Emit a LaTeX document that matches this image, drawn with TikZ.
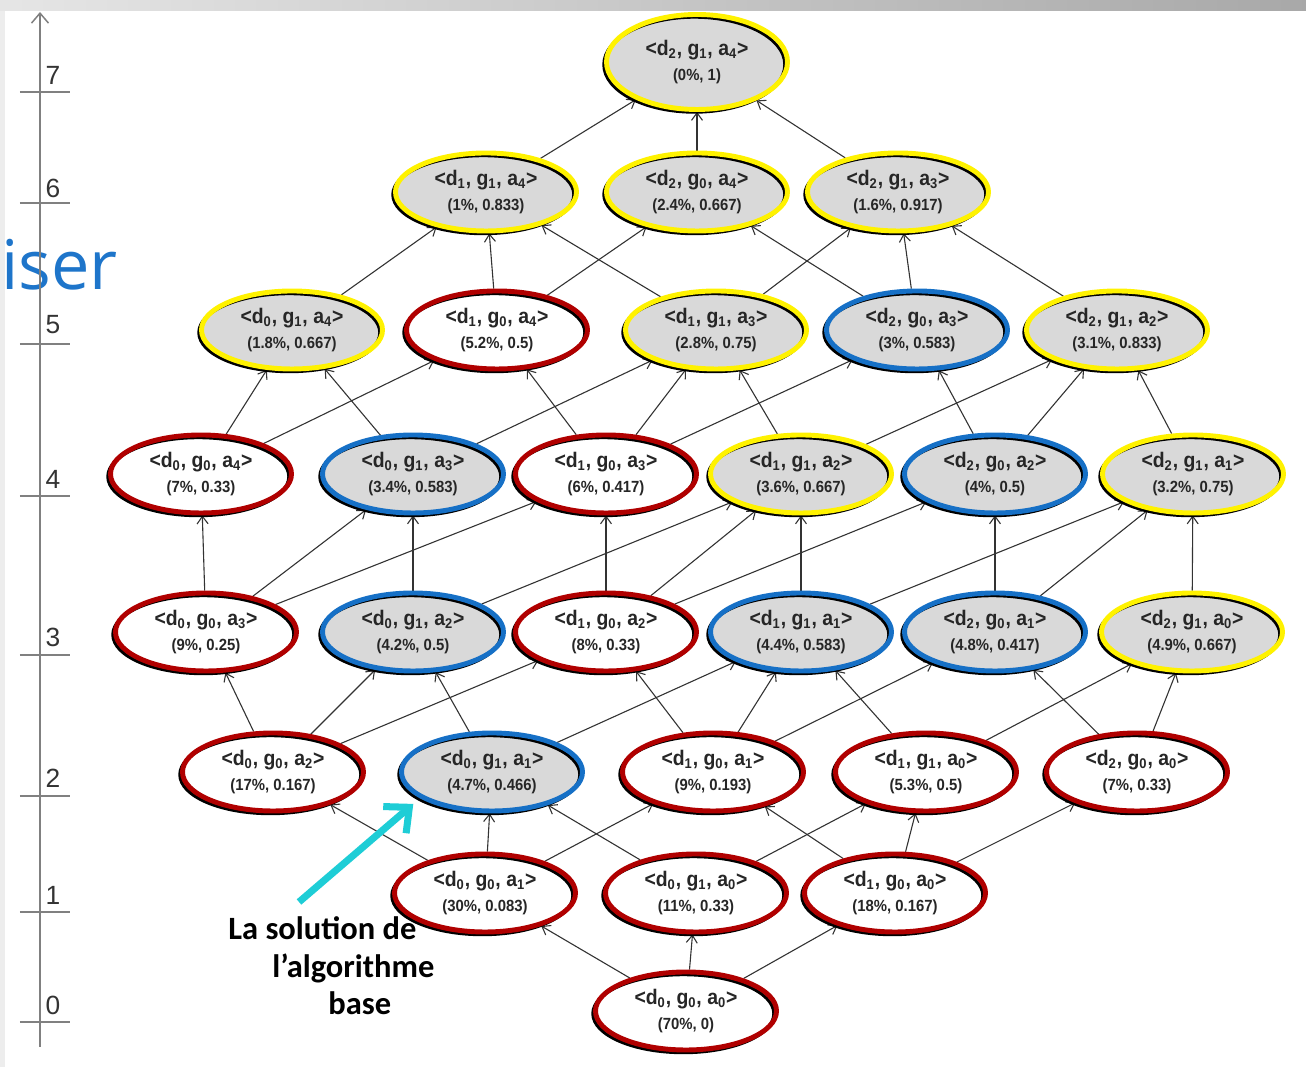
\documentclass[tikz,border=0pt]{standalone}
\usepackage{fontspec}
\setmainfont{Liberation Sans}
\newfontfamily\etatfont[FakeStretch=0.92]{Liberation Sans}
\newfontfamily\notefont{Carlito}
\newfontfamily\titrefont{Open Sans}
\usepackage{tikz}
\usetikzlibrary{shapes.geometric, arrows.meta, backgrounds, calc, positioning}
\definecolor{ringred}{RGB}{176,0,0}
\definecolor{ringyel}{RGB}{255,242,0}
\definecolor{ringblue}{RGB}{22,112,198}
\definecolor{nodegray}{RGB}{217,217,217}
\definecolor{titleblue}{RGB}{30,117,202}
\definecolor{solcyan}{RGB}{30,205,214}
\newcommand{\valeur}[1]{{\fontsize{9.2}{10}\selectfont #1}}

\begin{document}
\begin{tikzpicture}

% TikZ styles
\tikzset{
  etat/.style={ellipse, minimum width=3.62cm, minimum height=1.56cm, inner sep=0pt, align=center,
    font={\etatfont\bfseries\fontsize{12}{14.2}\selectfont}, text=black!85, line width=2.8pt,
    preaction={fill=#1},
    preaction={draw=black, line width=1.8pt, transform canvas={shift={(-1.5pt,-1.5pt)}}}},
  rouge/.style={etat=white, draw=ringred},
  jaune/.style={etat=nodegray, draw=ringyel},
  bleu/.style={etat=nodegray, draw=ringblue},
  arrow/.style={-{Straight Barb[length=1.5mm, width=2.2mm]}, line width=0.22mm, draw=black!80},
  pointer/.style={-{Straight Barb[length=11pt, width=20pt]}, line width=4pt, draw=solcyan, shorten >=5pt},
  axe/.style={-{Straight Barb[length=2mm, width=3.4mm]}, line width=0.3mm, draw=gray},
  tick/.style={line width=0.4mm, draw=gray},
  niveau/.style={font=\fontsize{15}{18}\selectfont, text=black!80, inner sep=0pt},
  note/.style={font={\notefont\bfseries\fontsize{18.5}{22}\selectfont}, inner sep=0pt, anchor=base west}
}

\useasboundingbox (0,0) rectangle (26.12,21.34);

%==========================
% Rand der Folie
%==========================
\begin{scope}[on background layer]
\fill[left color=gray!20, right color=gray!68] (0,21.12) rectangle (26.12,21.34);
\fill[gray!14] (0,0) rectangle (0.1,21.12);
\end{scope}

\node[font={\titrefont\fontsize{39}{44}\selectfont}, text=titleblue, anchor=base west, inner sep=0pt] (titre) at (0.02,15.54) {iser};

% --- Achse ---
\coordinate (axbas) at (0.8,0.4);
\coordinate (axhaut) at (0.8,21.1);
\draw[axe] (axbas) -- (axhaut);

\draw[tick] (0.4,0.90) -- (1.4,0.90);
\draw[tick] (0.4,3.10) -- (1.4,3.10);
\draw[tick] (0.4,5.42) -- (1.4,5.42);
\draw[tick] (0.4,8.24) -- (1.4,8.24);
\draw[tick] (0.4,11.42) -- (1.4,11.42);
\draw[tick] (0.4,14.46) -- (1.4,14.46);
\draw[tick] (0.4,17.28) -- (1.4,17.28);
\draw[tick] (0.4,19.50) -- (1.4,19.50);

\node[niveau] (niv0) at (1.06,1.24) {0};
\node[niveau] (niv1) at (1.06,3.44) {1};
\node[niveau] (niv2) at (1.06,5.78) {2};
\node[niveau] (niv3) at (1.06,8.60) {3};
\node[niveau] (niv4) at (1.06,11.76) {4};
\node[niveau] (niv5) at (1.06,14.84) {5};
\node[niveau] (niv6) at (1.06,17.58) {6};
\node[niveau] (niv7) at (1.06,19.84) {7};

%==========================
% Treillis
%==========================
% --- Niveau 0 ---
\node[rouge] (d0g0a0) at (13.72,1.12) {<d\textsubscript{0}, g\textsubscript{0}, a\textsubscript{0}> \\ \valeur{(70\%, 0)}};

% --- Niveau 1 ---
\node[rouge] (d0g0a1) at (9.70,3.48) {<d\textsubscript{0}, g\textsubscript{0}, a\textsubscript{1}> \\ \valeur{(30\%, 0.083)}};
\node[rouge] (d0g1a0) at (13.92,3.48) {<d\textsubscript{0}, g\textsubscript{1}, a\textsubscript{0}> \\ \valeur{(11\%, 0.33)}};
\node[rouge] (d1g0a0) at (17.90,3.48) {<d\textsubscript{1}, g\textsubscript{0}, a\textsubscript{0}> \\ \valeur{(18\%, 0.167)}};

% --- Niveau 2 ---
\node[rouge] (d0g0a2) at (5.46,5.90) {<d\textsubscript{0}, g\textsubscript{0}, a\textsubscript{2}> \\ \valeur{(17\%, 0.167)}};
\node[bleu]  (d0g1a1) at (9.84,5.90) {<d\textsubscript{0}, g\textsubscript{1}, a\textsubscript{1}> \\ \valeur{(4.7\%, 0.466)}};
\node[rouge] (d1g0a1) at (14.26,5.90) {<d\textsubscript{1}, g\textsubscript{0}, a\textsubscript{1}> \\ \valeur{(9\%, 0.193)}};
\node[rouge] (d1g1a0) at (18.52,5.90) {<d\textsubscript{1}, g\textsubscript{1}, a\textsubscript{0}> \\ \valeur{(5.3\%, 0.5)}};
\node[rouge] (d2g0a0) at (22.74,5.90) {<d\textsubscript{2}, g\textsubscript{0}, a\textsubscript{0}> \\ \valeur{(7\%, 0.33)}};

% --- Niveau 3 ---
\node[rouge] (d0g0a3) at (4.12,8.70) {<d\textsubscript{0}, g\textsubscript{0}, a\textsubscript{3}> \\ \valeur{(9\%, 0.25)}};
\node[bleu]  (d0g1a2) at (8.26,8.70) {<d\textsubscript{0}, g\textsubscript{1}, a\textsubscript{2}> \\ \valeur{(4.2\%, 0.5)}};
\node[rouge] (d1g0a2) at (12.12,8.70) {<d\textsubscript{1}, g\textsubscript{0}, a\textsubscript{2}> \\ \valeur{(8\%, 0.33)}};
\node[bleu]  (d1g1a1) at (16.02,8.70) {<d\textsubscript{1}, g\textsubscript{1}, a\textsubscript{1}> \\ \valeur{(4.4\%, 0.583)}};
\node[bleu]  (d2g0a1) at (19.90,8.70) {<d\textsubscript{2}, g\textsubscript{0}, a\textsubscript{1}> \\ \valeur{(4.8\%, 0.417)}};
\node[jaune] (d2g1a0) at (23.84,8.70) {<d\textsubscript{2}, g\textsubscript{1}, a\textsubscript{0}> \\ \valeur{(4.9\%, 0.667)}};

% --- Niveau 4 ---
\node[rouge] (d0g0a4) at (4.02,11.86) {<d\textsubscript{0}, g\textsubscript{0}, a\textsubscript{4}> \\ \valeur{(7\%, 0.33)}};
\node[bleu]  (d0g1a3) at (8.26,11.86) {<d\textsubscript{0}, g\textsubscript{1}, a\textsubscript{3}> \\ \valeur{(3.4\%, 0.583)}};
\node[rouge] (d1g0a3) at (12.12,11.86) {<d\textsubscript{1}, g\textsubscript{0}, a\textsubscript{3}> \\ \valeur{(6\%, 0.417)}};
\node[jaune] (d1g1a2) at (16.02,11.86) {<d\textsubscript{1}, g\textsubscript{1}, a\textsubscript{2}> \\ \valeur{(3.6\%, 0.667)}};
\node[bleu]  (d2g0a2) at (19.90,11.86) {<d\textsubscript{2}, g\textsubscript{0}, a\textsubscript{2}> \\ \valeur{(4\%, 0.5)}};
\node[jaune] (d2g1a1) at (23.86,11.86) {<d\textsubscript{2}, g\textsubscript{1}, a\textsubscript{1}> \\ \valeur{(3.2\%, 0.75)}};

% --- Niveau 5 ---
\node[jaune] (d0g1a4) at (5.84,14.74) {<d\textsubscript{0}, g\textsubscript{1}, a\textsubscript{4}> \\ \valeur{(1.8\%, 0.667)}};
\node[rouge] (d1g0a4) at (9.94,14.74) {<d\textsubscript{1}, g\textsubscript{0}, a\textsubscript{4}> \\ \valeur{(5.2\%, 0.5)}};
\node[jaune] (d1g1a3) at (14.32,14.74) {<d\textsubscript{1}, g\textsubscript{1}, a\textsubscript{3}> \\ \valeur{(2.8\%, 0.75)}};
\node[bleu]  (d2g0a3) at (18.34,14.74) {<d\textsubscript{2}, g\textsubscript{0}, a\textsubscript{3}> \\ \valeur{(3\%, 0.583)}};
\node[jaune] (d2g1a2) at (22.34,14.74) {<d\textsubscript{2}, g\textsubscript{1}, a\textsubscript{2}> \\ \valeur{(3.1\%, 0.833)}};

% --- Niveau 6 ---
\node[jaune] (d1g1a4) at (9.72,17.50) {<d\textsubscript{1}, g\textsubscript{1}, a\textsubscript{4}> \\ \valeur{(1\%, 0.833)}};
\node[jaune] (d2g0a4) at (13.94,17.50) {<d\textsubscript{2}, g\textsubscript{0}, a\textsubscript{4}> \\ \valeur{(2.4\%, 0.667)}};
\node[jaune] (d2g1a3) at (17.96,17.50) {<d\textsubscript{2}, g\textsubscript{1}, a\textsubscript{3}> \\ \valeur{(1.6\%, 0.917)}};

% --- Niveau 7 ---
\node[jaune, minimum height=1.9cm] (d2g1a4) at (13.94,20.10) {<d\textsubscript{2}, g\textsubscript{1}, a\textsubscript{4}> \\ \valeur{(0\%, 1)}};

% --- Pfeile ---
\begin{scope}[on background layer]
%0 -> 1
\draw[arrow] (d0g0a0) -- (d0g0a1);
\draw[arrow] (d0g0a0) -- (d0g1a0);
\draw[arrow] (d0g0a0) -- (d1g0a0);
%1 -> 2
\draw[arrow] (d0g0a1) -- (d0g0a2);
\draw[arrow] (d0g0a1) -- (d0g1a1);
\draw[arrow] (d0g0a1) -- (d1g0a1);
\draw[arrow] (d0g1a0) -- (d0g1a1);
\draw[arrow] (d0g1a0) -- (d1g1a0);
\draw[arrow] (d1g0a0) -- (d1g0a1);
\draw[arrow] (d1g0a0) -- (d1g1a0);
\draw[arrow] (d1g0a0) -- (d2g0a0);
%2 -> 3
\draw[arrow] (d0g0a2) -- (d0g0a3);
\draw[arrow] (d0g0a2) -- (d0g1a2);
\draw[arrow] (d0g0a2) -- (d1g0a2);
\draw[arrow] (d0g1a1) -- (d0g1a2);
\draw[arrow] (d0g1a1) -- (d1g1a1);
\draw[arrow] (d1g0a1) -- (d1g0a2);
\draw[arrow] (d1g0a1) -- (d1g1a1);
\draw[arrow] (d1g0a1) -- (d2g0a1);
\draw[arrow] (d1g1a0) -- (d1g1a1);
\draw[arrow] (d1g1a0) -- (d2g1a0);
\draw[arrow] (d2g0a0) -- (d2g0a1);
\draw[arrow] (d2g0a0) -- (d2g1a0);
%3 -> 4
\draw[arrow] (d0g0a3) -- (d0g0a4);
\draw[arrow] (d0g0a3) -- (d0g1a3);
\draw[arrow] (d0g0a3) -- (d1g0a3);
\draw[arrow] (d0g1a2) -- (d0g1a3);
\draw[arrow] (d0g1a2) -- (d1g1a2);
\draw[arrow] (d1g0a2) -- (d1g0a3);
\draw[arrow] (d1g0a2) -- (d1g1a2);
\draw[arrow] (d1g0a2) -- (d2g0a2);
\draw[arrow] (d1g1a1) -- (d1g1a2);
\draw[arrow] (d1g1a1) -- (d2g1a1);
\draw[arrow] (d2g0a1) -- (d2g0a2);
\draw[arrow] (d2g0a1) -- (d2g1a1);
\draw[arrow] (d2g1a0) -- (d2g1a1);
%4 -> 5
\draw[arrow] (d0g0a4) -- (d0g1a4);
\draw[arrow] (d0g0a4) -- (d1g0a4);
\draw[arrow] (d0g1a3) -- (d0g1a4);
\draw[arrow] (d0g1a3) -- (d1g1a3);
\draw[arrow] (d1g0a3) -- (d1g0a4);
\draw[arrow] (d1g0a3) -- (d1g1a3);
\draw[arrow] (d1g0a3) -- (d2g0a3);
\draw[arrow] (d1g1a2) -- (d1g1a3);
\draw[arrow] (d1g1a2) -- (d2g1a2);
\draw[arrow] (d2g0a2) -- (d2g0a3);
\draw[arrow] (d2g0a2) -- (d2g1a2);
\draw[arrow] (d2g1a1) -- (d2g1a2);
%5 -> 6
\draw[arrow] (d0g1a4) -- (d1g1a4);
\draw[arrow] (d1g0a4) -- (d1g1a4);
\draw[arrow] (d1g0a4) -- (d2g0a4);
\draw[arrow] (d1g1a3) -- (d1g1a4);
\draw[arrow] (d1g1a3) -- (d2g1a3);
\draw[arrow] (d2g0a3) -- (d2g0a4);
\draw[arrow] (d2g0a3) -- (d2g1a3);
\draw[arrow] (d2g1a2) -- (d2g1a3);
%6 -> 7
\draw[arrow] (d1g1a4) -- (d2g1a4);
\draw[arrow] (d2g0a4) -- (d2g1a4);
\draw[arrow] (d2g1a3) -- (d2g1a4);
\end{scope}

% --- Hinweis ---
\coordinate (solpied) at (5.98,3.30);
\draw[pointer] (solpied) -- (d0g1a1.200);
\node[note] (sol1) at (4.56,2.54) {La solution de};
\node[note] (sol2) at (5.44,1.78) {l’algorithme};
\node[note] (sol3) at (6.56,1.04) {base};

\end{tikzpicture}
\end{document}
